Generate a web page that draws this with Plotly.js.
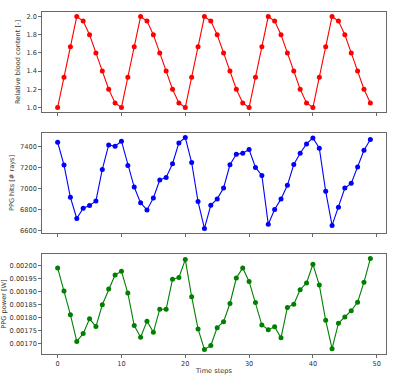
<!DOCTYPE html>
<html>
<head>
<meta charset="utf-8">
<script src="https://cdn.plot.ly/plotly-3.0.1.min.js"></script>
<style>html,body{margin:0;padding:0;background:#fff;}#chart{width:400px;height:376px;}</style>
</head>
<body>
<div id="chart"></div>
<script>
const timeSteps = Array.from({length: 50}, (_, i) => i);

const bloodContent = [
  1.0, 1.333, 1.667, 2.0, 1.95, 1.8, 1.6, 1.4, 1.2, 1.05,
  1.0, 1.333, 1.667, 2.0, 1.95, 1.8, 1.6, 1.4, 1.2, 1.05,
  1.0, 1.333, 1.667, 2.0, 1.95, 1.8, 1.6, 1.4, 1.2, 1.05,
  1.0, 1.333, 1.667, 2.0, 1.95, 1.8, 1.6, 1.4, 1.2, 1.05,
  1.0, 1.333, 1.667, 2.0, 1.95, 1.8, 1.6, 1.4, 1.2, 1.05
];

const ppgHits = [
  7444, 7226, 6919, 6717, 6815, 6840, 6885, 7185, 7419, 7406,
  7454, 7223, 7017, 6866, 6799, 6913, 7084, 7109, 7239, 7438,
  7489, 7251, 6878, 6622, 6843, 6904, 7008, 7229, 7330, 7340,
  7375, 7204, 7128, 6663, 6802, 6904, 7033, 7232, 7340, 7428,
  7485, 7387, 6976, 6651, 6825, 7008, 7052, 7207, 7368, 7470
];

const ppgPower = [
  0.001991, 0.001902, 0.001811, 0.001708, 0.001738, 0.001795, 0.001765, 0.001849, 0.001910, 0.001964,
  0.001978, 0.001894, 0.001769, 0.001724, 0.001786, 0.001743, 0.001832, 0.001832, 0.001947, 0.001954,
  0.002023, 0.001880, 0.001756, 0.001677, 0.001692, 0.001761, 0.001784, 0.001854, 0.001952, 0.001991,
  0.001939, 0.001858, 0.001771, 0.001753, 0.001764, 0.001722, 0.001839, 0.001851, 0.001907, 0.001933,
  0.002005, 0.001925, 0.001789, 0.001680, 0.001778, 0.001802, 0.001826, 0.001859, 0.001936, 0.002027
];

const xTicks = [0, 10, 20, 30, 40, 50];
const bloodTicks = [1.0, 1.2, 1.4, 1.6, 1.8, 2.0];
const hitsTicks = [6600, 6800, 7000, 7200, 7400];
const powerTicks = [0.00170, 0.00175, 0.00180, 0.00185, 0.00190, 0.00195, 0.00200];

const labels = {
  x: 'Time steps',
  blood: 'Relative blood content [-]',
  hits: 'PPG hits [# rays]',
  power: 'PPG power [W]'
};

function pad(arr) {
  const mn = Math.min(...arr), mx = Math.max(...arr), d = (mx - mn) * 0.05;
  return [mn - d, mx + d];
}

const font = {family: 'DejaVu Sans', size: 6.6, color: '#333'};
const lineColor = '#444';

function mk(x, y, color, xa, ya) {
  return {
    x: x, y: y, xaxis: xa, yaxis: ya, type: 'scatter', mode: 'lines+markers',
    line: {color: color, width: 1.1}, marker: {color: color, size: 5},
    hoverinfo: 'skip', showlegend: false
  };
}

const data = [
  mk(timeSteps, bloodContent, '#ff0000', 'x', 'y'),
  mk(timeSteps, ppgHits, '#0000ff', 'x2', 'y2'),
  mk(timeSteps, ppgPower, '#008000', 'x3', 'y3')
];

const xr = pad(timeSteps);
function xaxis(anchor, show) {
  return {
    anchor: anchor, range: xr, tickvals: xTicks, showticklabels: show,
    ticks: 'outside', ticklen: 3, tickwidth: 0.8, tickcolor: lineColor,
    showline: true, mirror: true, linecolor: lineColor, linewidth: 0.8,
    showgrid: false, zeroline: false, tickfont: font
  };
}
function yaxis(anchor, domain, range, ticks, fmt, title, standoff) {
  return {
    anchor: anchor, domain: domain, range: range, tickvals: ticks, tickformat: fmt,
    ticks: 'outside', ticklen: 3, tickwidth: 0.8, tickcolor: lineColor,
    showline: true, mirror: true, linecolor: lineColor, linewidth: 0.8,
    showgrid: false, zeroline: false, tickfont: font,
    title: {text: title, font: font, standoff: standoff}
  };
}

const layout = {
  width: 400, height: 376,
  margin: {l: 42, r: 14, t: 12, b: 22},
  paper_bgcolor: '#fff', plot_bgcolor: '#fff',
  font: font,
  xaxis: xaxis('y', false),
  xaxis2: xaxis('y2', false),
  xaxis3: Object.assign(xaxis('y3', true), {title: {text: labels.x, font: font, standoff: 1}}),
  yaxis: yaxis('x', [0.7076, 1], pad(bloodContent), bloodTicks, '.1f', labels.blood, 4),
  yaxis2: yaxis('x2', [0.3538, 0.6462], pad(ppgHits), hitsTicks, 'd', labels.hits, 4),
  yaxis3: yaxis('x3', [0, 0.2924], pad(ppgPower), powerTicks, '.5f', labels.power, 4)
};

Plotly.newPlot('chart', data, layout, {staticPlot: true, displayModeBar: false});
</script>
</body>
</html>
